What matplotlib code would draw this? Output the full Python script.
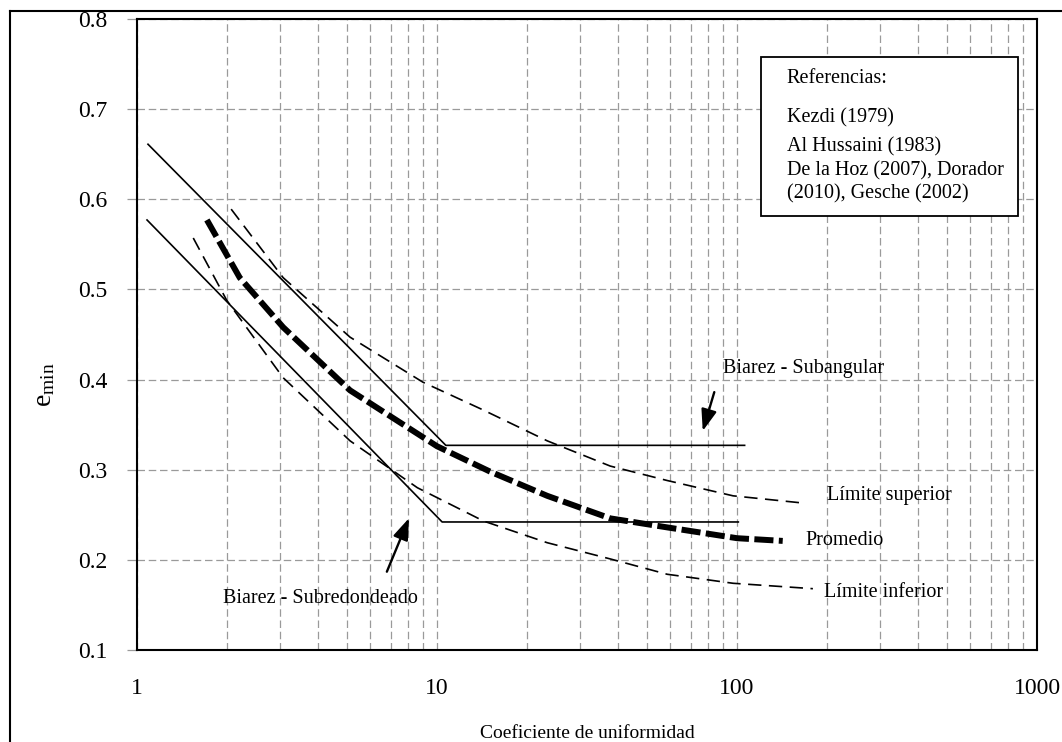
import matplotlib
matplotlib.use("Agg")
import matplotlib.pyplot as plt
from matplotlib.lines import Line2D
from matplotlib.patches import Rectangle
from matplotlib.ticker import LogLocator, FixedLocator, FixedFormatter

plt.rcParams['font.family'] = ['Liberation Serif', 'DejaVu Serif']
plt.rcParams['mathtext.fontset'] = 'custom'
plt.rcParams['mathtext.rm'] = 'Liberation Serif'
plt.rcParams['mathtext.it'] = 'Liberation Serif:italic'

# Biarez straight-line relations
subangular_x = [1.088, 10.7, 106]
subangular_y = [0.661, 0.327, 0.327]
subredondeado_x = [1.08, 10.4, 101]
subredondeado_y = [0.577, 0.242, 0.242]

# Average curve (Promedio)
promedio_x = [1.71, 2.2, 3.07, 5.13, 10, 15, 23.3, 37.8, 58.5, 100, 142]
promedio_y = [0.577, 0.513, 0.458, 0.388, 0.326, 0.298, 0.271, 0.246, 0.236, 0.224, 0.221]

# Upper / lower limits
superior_x = [2.06, 3.07, 5.13, 8.98, 14.3, 23.3, 37.8, 58.5, 97, 166]
superior_y = [0.589, 0.513, 0.447, 0.397, 0.366, 0.332, 0.304, 0.288, 0.271, 0.263]
inferior_x = [1.54, 1.99, 3.07, 5.13, 8.6, 14.3, 23.3, 37.8, 58.5, 97, 179]
inferior_y = [0.557, 0.488, 0.402, 0.332, 0.28, 0.243, 0.219, 0.201, 0.184, 0.174, 0.168]

y_ticks = [0.1, 0.2, 0.3, 0.4, 0.5, 0.6, 0.7, 0.8]
x_ticks = [1, 10, 100, 1000]
x_labels = ["1", "10", "100", "1000"]

referencias = ["Referencias:", "Kezdi (1979)", "Al Hussaini (1983)",
               "De la Hoz (2007), Dorador", "(2010), Gesche (2002)"]

fig = plt.figure(figsize=(10.62, 7.42), dpi=100)
ax = fig.add_axes([0.129, 0.124, 0.8475, 0.8505])

ax.set_xscale("log")
ax.set_xlim(1, 1000)
ax.set_ylim(0.1, 0.8)

# grid
grid_kw = dict(color="#9a9a9a", linewidth=0.9, linestyle=(0, (6, 3)))
ax.xaxis.set_major_locator(FixedLocator(x_ticks))
ax.xaxis.set_major_formatter(FixedFormatter(x_labels))
ax.xaxis.set_minor_locator(LogLocator(base=10, subs=range(2, 10)))
ax.xaxis.set_minor_formatter(FixedFormatter([]))
ax.set_yticks(y_ticks)
ax.set_yticklabels(["%.1f" % v for v in y_ticks])
ax.grid(True, which="major", axis="both", **grid_kw)
ax.grid(True, which="minor", axis="x", **grid_kw)
ax.tick_params(axis="x", which="both", length=0, pad=20, labelsize=17)
ax.tick_params(axis="y", which="major", length=7, width=0.9, color="#9a9a9a",
               pad=14, labelsize=17, direction="out")
for s in ax.spines.values():
    s.set_linewidth(1.5)
ax.set_axisbelow(True)

# curves
ax.plot(subangular_x, subangular_y, color="black", lw=1.2)
ax.plot(subredondeado_x, subredondeado_y, color="black", lw=1.2)
ax.plot(superior_x, superior_y, color="black", lw=1.2, dashes=(8, 4.5))
ax.plot(inferior_x, inferior_y, color="black", lw=1.2, dashes=(8, 4.5))
ax.plot(promedio_x, promedio_y, color="black", lw=4.3, dashes=(3.2, 0.9))

# labels on the curves
ax.text(89.6, 0.412, "Biarez - Subangular", fontsize=14.5, va="center", ha="left")
ax.text(1.935, 0.157, "Biarez - Subredondeado", fontsize=14.5, va="center", ha="left")
ax.text(199.5, 0.271, "Límite superior", fontsize=14.5, va="center", ha="left")
ax.text(169, 0.221, "Promedio", fontsize=14.5, va="center", ha="left")
ax.text(195, 0.164, "Límite inferior", fontsize=14.5, va="center", ha="left")

arrow_kw = dict(arrowstyle="-|>,head_length=1.3,head_width=0.47", color="black", lw=1.7)
ax.annotate("", xy=(76.4, 0.34), xytext=(84.5, 0.389), arrowprops=arrow_kw)
ax.annotate("", xy=(8.13, 0.249), xytext=(6.75, 0.184), arrowprops=arrow_kw)

# references box
ax.add_patch(Rectangle((0.693, 0.688), 0.286, 0.252, transform=ax.transAxes,
                       facecolor="white", edgecolor="black", lw=1.3, zorder=5))
ref_y = [0.905, 0.843, 0.797, 0.759, 0.722]
for txt, yy in zip(referencias, ref_y):
    ax.text(0.722, yy, txt, transform=ax.transAxes, fontsize=14.5,
            va="center", ha="left", zorder=6)

# axis titles
fig.text(0.042, 1 - 385 / 742, r"e$_{\mathrm{min}}$", rotation=90,
         fontsize=20, ha="center", va="center")
fig.text(0.553, 1 - 733 / 742, "Coeficiente de uniformidad", fontsize=14,
         ha="center", va="center")

# outer frame (left and top edges)
fig.add_artist(Line2D([10 / 1062, 10 / 1062], [0, 1 - 11 / 742],
                      transform=fig.transFigure, color="black", lw=1.5))
fig.add_artist(Line2D([10 / 1062, 1], [1 - 11 / 742, 1 - 11 / 742],
                      transform=fig.transFigure, color="black", lw=1.5))

fig.savefig("out.png", dpi=100)
